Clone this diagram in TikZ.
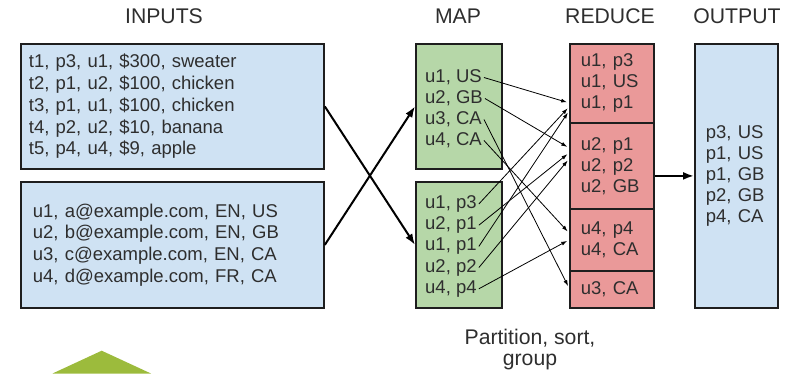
\documentclass[tikz,border=0pt]{standalone}
\usepackage{fontspec}
\setmainfont{Liberation Sans}
\usetikzlibrary{arrows.meta,calc}

\definecolor{inblue}{HTML}{CFE2F3}
\definecolor{mapgreen}{HTML}{B6D7A8}
\definecolor{redbox}{HTML}{EA9999}
\definecolor{edgeline}{HTML}{1E1E1E}
\definecolor{ink}{HTML}{2E2E2E}
\definecolor{leaf}{HTML}{9CBB3C}

\newcommand\txtbody{\fontsize{18.5pt}{21pt}\selectfont}
\newcommand\txtwide{\fontsize{18.5pt}{21.7pt}\selectfont}
\newcommand\txthead{\fontsize{21.2pt}{21pt}\selectfont}

\begin{document}
\begin{tikzpicture}[x=1pt,y=-1pt,
  box/.style={draw=edgeline,line width=1.8pt,anchor=north west,inner ysep=0pt,
              align=left,text=ink,font=\txtbody},
  inbox/.style={box,fill=inblue,font=\txtwide},
  mapbox/.style={box,fill=mapgreen,minimum width=86pt,inner sep=0pt},
  redbx/.style={box,fill=redbox,minimum width=84pt,inner xsep=11pt,text width=62pt},
  outbox/.style={box,fill=inblue,minimum width=83pt,inner xsep=11pt,text width=61pt},
  item/.style={anchor=base west,inner xsep=2pt,inner ysep=0pt,text=ink,font=\txtbody,
               text height=13pt,text depth=4pt},
  head/.style={anchor=base,inner sep=0pt,text=ink,font=\txthead},
  bigarrow/.style={line width=2pt,-{Latex[length=11pt,width=8pt]}},
  thinarrow/.style={line width=0.8pt,-{Latex[length=6pt,width=4pt]},shorten >=2pt}
]
\useasboundingbox (0,0) rectangle (790,373);

% column headings
\node[head] (hin)  at (164,23) {INPUTS};
\node[head] (hmap) at (458,23) {MAP};
\node[head] (hred) at (610,23) {REDUCE};
\node[head] (hout) at (737,23) {OUTPUT};

% input records
\node[inbox,minimum width=303pt,minimum height=125pt,inner xsep=8pt,text width=287pt] (in1) at (20,43)
  {t1, p3, u1, \$300, sweater\\
   t2, p1, u2, \$100, chicken\\
   t3, p1, u1, \$100, chicken\\
   t4, p2, u2, \$10, banana\\
   t5, p4, u4, \$9, apple};
\node[inbox,minimum width=303pt,minimum height=126pt,inner xsep=12pt,text width=279pt] (in2) at (20,181)
  {u1, a@example.com, EN, US\\
   u2, b@example.com, EN, GB\\
   u3, c@example.com, EN, CA\\
   u4, d@example.com, FR, CA};

% map outputs
\node[mapbox,minimum height=125pt] (m1) at (415,43) {};
\node[mapbox,minimum height=126pt] (m2) at (415,181) {};
\node[item] (m1a) at (423,82)  {u1, US};
\node[item] (m1b) at (423,103) {u2, GB};
\node[item] (m1c) at (423,124) {u3, CA};
\node[item] (m1d) at (423,145) {u4, CA};
\node[item] (m2a) at (423,208.5) {u1, p3};
\node[item] (m2b) at (423,229.7) {u2, p1};
\node[item] (m2c) at (423,250.9) {u1, p1};
\node[item] (m2d) at (423,272.1) {u2, p2};
\node[item] (m2e) at (423,293.3) {u4, p4};

% reduce groups
\node[redbx,minimum height=79pt] (r1) at (569,43)  {u1, p3\\u1, US\\u1, p1};
\node[redbx,minimum height=86pt] (r2) at (569,122) {u2, p1\\u2, p2\\u2, GB};
\node[redbx,minimum height=62pt] (r3) at (569,208) {u4, p4\\u4, CA};
\node[redbx,minimum height=37pt] (r4) at (569,270) {u3, CA};

% final output
\node[outbox,minimum height=264pt] (out) at (694,43)
  {p3, US\\p1, US\\p1, GB\\p2, GB\\p4, CA};

% caption under the shuffle
\node[anchor=center,inner sep=0pt,align=center,text=ink,font=\txthead] (part) at (530,350)
  {Partition, sort,\\group};

% inputs to mappers
\draw[bigarrow] (in1.east) -- (m2.west);
\draw[bigarrow] (in2.east) -- (m1.west);

% shuffle to reducers
\draw[thinarrow] (m1a.east) -- ([yshift=-19.5pt]r1.west);
\draw[thinarrow] (m2a.east) -- ([yshift=-23.5pt]r1.west);
\draw[thinarrow] (m2c.east) -- ([yshift=-27.5pt]r1.west);
\draw[thinarrow] (m1b.east) -- ([yshift=18pt]r2.west);
\draw[thinarrow] (m2b.east) -- ([yshift=13pt]r2.west);
\draw[thinarrow] (m2d.east) -- ([yshift=7pt]r2.west);
\draw[thinarrow] (m1d.east) -- ([yshift=7pt]r3.west);
\draw[thinarrow] (m2e.east) -- ([yshift=0pt]r3.west);
\draw[thinarrow] (m1c.east) -- ([yshift=1.5pt]r4.west);

% reducers to output
\draw[bigarrow] (out.west -| r2.east) -- (out.west);

% green marker at the lower left
\fill[leaf] (101.7,350.7) -- (151,373.5) -- (52.5,373.5) -- cycle;
\end{tikzpicture}
\end{document}
